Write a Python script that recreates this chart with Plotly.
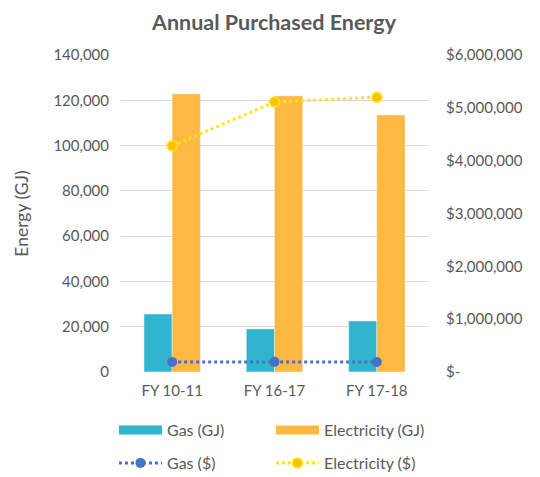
import plotly.graph_objects as go

categories = ["FY 10-11", "FY 16-17", "FY 17-18"]
gas_gj = [25600, 19000, 22500]
elec_gj = [122800, 121900, 113500]
gas_cost = [190000, 192000, 188000]
elec_cost = [4280000, 5110000, 5200000]

left_ticks = [0, 20000, 40000, 60000, 80000, 100000, 120000, 140000]
left_labels = ["0", "20,000", "40,000", "60,000", "80,000", "100,000", "120,000", "140,000"]
right_ticks = [0, 1000000, 2000000, 3000000, 4000000, 5000000, 6000000]
right_labels = ["$-", "$1,000,000", "$2,000,000", "$3,000,000", "$4,000,000", "$5,000,000", "$6,000,000"]

FONT = "Lato, Open Sans, sans-serif"
TXT = "#595959"
GAS_C = "#31B5CF"
ELEC_C = "#FFB841"

fig = go.Figure()
fig.add_trace(go.Bar(x=categories, y=gas_gj, name="Gas (GJ)", marker_color=GAS_C, showlegend=False))
fig.add_trace(go.Bar(x=categories, y=elec_gj, name="Electricity (GJ)", marker_color=ELEC_C, showlegend=False))
# legend entries for bars (wide rectangles as in the reference)
fig.add_trace(go.Scatter(x=[None], y=[None], mode="lines", name="Gas (GJ)",
                         line=dict(color=GAS_C, width=9), legend="legend"))
fig.add_trace(go.Scatter(x=[None], y=[None], mode="lines", name="Electricity (GJ)",
                         line=dict(color=ELEC_C, width=9), legend="legend"))
fig.add_trace(go.Scatter(x=categories, y=gas_cost, name="Gas ($)", yaxis="y2",
                         mode="lines+markers", legend="legend2",
                         line=dict(color="#4472C4", width=3, dash="dot"),
                         marker=dict(color="#4472C4", size=10)))
fig.add_trace(go.Scatter(x=categories, y=elec_cost, name="Electricity ($)", yaxis="y2",
                         mode="lines+markers", legend="legend2",
                         line=dict(color="#FFE619", width=3, dash="dot"),
                         marker=dict(color="#FFC000", size=10, line=dict(color="#FFE619", width=1.5))))

leg_common = dict(orientation="h", x=-7 / 307, xanchor="left", yanchor="middle",
                  entrywidth=99, itemwidth=43, font=dict(size=16, color=TXT),
                  traceorder="normal", bgcolor="rgba(0,0,0,0)")

fig.update_layout(
    width=532, height=469,
    margin=dict(l=113, r=112, t=47, b=105, autoexpand=False),
    paper_bgcolor="white", plot_bgcolor="white",
    font=dict(family=FONT, color=TXT, size=15),
    title=dict(text="<b>Annual Purchased Energy</b>", x=0.5, xanchor="center",
               y=1 - 14 / 469, yanchor="middle", font=dict(size=21.5, color=TXT, family=FONT)),
    barmode="group", bargap=0.45, bargroupgap=0,
    xaxis=dict(showgrid=False, showline=False, ticks="", ticklabelstandoff=8,
               tickfont=dict(size=15, color=TXT)),
    yaxis=dict(range=[0, 140000], tickvals=left_ticks, ticktext=left_labels,
               showgrid=True, gridcolor="#D9D9D9", gridwidth=1, zeroline=False,
               showline=False, ticks="", ticklabelstandoff=11, tickfont=dict(size=15, color=TXT),
               title=dict(text="Energy (GJ)", font=dict(size=17.5, color=TXT), standoff=20)),
    yaxis2=dict(range=[0, 6000000], tickvals=right_ticks, ticktext=right_labels,
                overlaying="y", side="right", showgrid=False, zeroline=False,
                showline=False, ticks="", ticklabelstandoff=17, tickfont=dict(size=15, color=TXT)),
    legend=dict(y=-58 / 317, **leg_common),
    legend2=dict(y=-91 / 317, **leg_common),
)

fig.write_html("out.html")
